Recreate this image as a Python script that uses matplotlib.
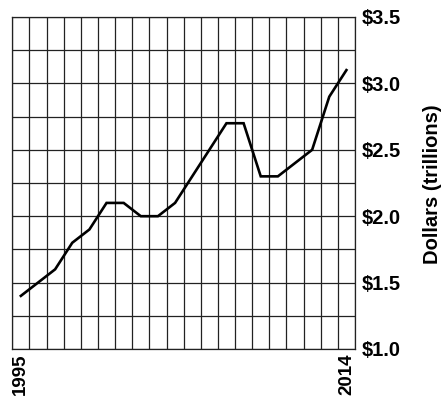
import numpy as np
import matplotlib
matplotlib.use("Agg")
import matplotlib.pyplot as plt

plt.rcParams.update({
    "font.family": ["Liberation Sans", "DejaVu Sans"],
    "font.weight": "bold",
    "font.size": 14.5,
})

# data
years = list(range(1995, 2015))
dollars = [1.4, 1.5, 1.6, 1.8, 1.9, 2.1, 2.1, 2.0, 2.0, 2.1,
           2.3, 2.5, 2.7, 2.7, 2.3, 2.3, 2.4, 2.5, 2.9, 3.1]
y_ticks = [1.0, 1.5, 2.0, 2.5, 3.0, 3.5]
y_labels = [r"\$1.0", r"\$1.5", r"\$2.0", r"\$2.5", r"\$3.0", r"\$3.5"]
x_ticks = [1995, 2014]

fig = plt.figure(figsize=(4.44, 4.0), dpi=100)
ax = fig.add_axes([0.0277, 0.1275, 0.7718, 0.83])

grid_kw = dict(color="#222222", linewidth=0.9, zorder=1)
for x in np.arange(years[0] - 0.5, years[-1] + 1, 1.0):
    ax.axvline(x, **grid_kw)
for y in np.arange(1.0, 3.51, 0.25):
    ax.axhline(y, **grid_kw)

ax.plot(years, dollars, color="black", linewidth=1.9, zorder=3,
        solid_joinstyle="miter")

ax.set_xlim(years[0] - 0.5, years[-1] + 0.5)
ax.set_ylim(1.0, 3.5)
for s in ax.spines.values():
    s.set_color("#222222")
    s.set_linewidth(0.9)

ax.set_xticks(x_ticks)
ax.set_xticklabels([str(v) for v in x_ticks], rotation=90,
                   fontweight="bold", fontsize=13.5)
ax.yaxis.tick_right()
ax.set_yticks(y_ticks)
ax.set_yticklabels(y_labels, fontweight="bold")
ax.tick_params(length=0, pad=4.5)
ax.tick_params(axis="x", pad=3)

fig.text(0.975, 0.54, "Dollars (trillions)", rotation=90,
         ha="center", va="center", fontweight="bold", fontsize=14.5)

fig.savefig("out.png", dpi=100)
